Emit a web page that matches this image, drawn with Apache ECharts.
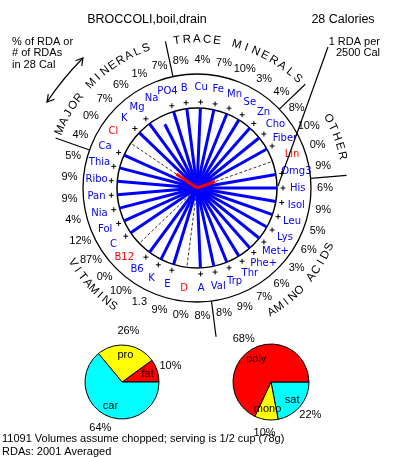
<!DOCTYPE html>
<html><head><meta charset="utf-8">
<script src="https://cdn.jsdelivr.net/npm/echarts@6/dist/echarts.min.js"></script>
<style>html,body{margin:0;padding:0;background:#fff}#c{width:393px;height:457px}</style>
</head><body><div id="c"></div>
<script>
// ---------------- data ----------------
const foodName = 'BROCCOLI,boil,drain';
const calories = 28;
const nutrients = ['His','Isol','Leu','Lys','Met+','Phe+','Thr','Trp','Val',
  'A','D','E','K','B6','B12','C','Fol','Nia','Pan','Ribo','Thia',
  'Ca','Cl','K','Mg','Na','PO4',
  'B','Cu','Fe','Mn','Se','Zn',
  'Cho','Fiber','Lin','Omg3'];
const percentRDA = [6,9,5,6,3,6,7,9,8,
  8,0,9,130,10,0,87,12,4,9,9,5,
  4,0,7,6,1,7,
  8,4,7,10,3,4,
  8,10,0,9];
const percentLabels = ['6%','9%','5%','6%','3%','6%','7%','9%','8%',
  '8%','0%','9%','1.3','10%','0%','87%','12%','4%','9%','9%','5%',
  '4%','0%','7%','6%','1%','7%',
  '8%','4%','7%','10%','3%','4%',
  '8%','10%','0%','9%'];
const noDataNames = ['D','B12','Cl','Lin'];
const partialNames = ['Cl','Lin'];
const partialValues = [0.35, 0.27];
const groupNames = ['AMINO ACIDS','VITAMINS','MAJOR MINERALS','TRACE MINERALS','OTHER'];
const groupSizes = [9,12,6,6,4];
const calorieNames = ['fat','pro','car'];
const calorieShare = [10,26,64];
const fatNames = ['sat','mono','poly'];
const fatShare = [22,10,68];

// ---------------- layout / style ----------------
const N = nutrients.length;
const threshold = calories / 2500 * 100;   // % RDA that reaches the "1 RDA per 2500 Cal" circle
const CENTER = [197, 188];
const R_IN = 80, R_OUT = 114;
const groupTextFrom = [6.06, 15.31, 20.85, 26.95, 34.14];
const groupTextTo   = [2.47, 12.9, 25.69, 32.13, 35.71];
const groupInward   = [true, true, false, false, false];
const pieColors1 = ['#ff0000','#ffff00','#00ffff'];
const pieColors2 = ['#00ffff','#ffff00','#ff0000'];
const SANS = '"Liberation Sans", Arial, sans-serif';
const LBL = '"DejaVu Sans", Verdana, sans-serif';

const dividers = [];
groupSizes.reduce((acc, s) => { dividers.push(acc + s - 0.5); return acc + s; }, 0);

const letters = [];
groupNames.forEach((g, gi) => {
  const chars = g.split('');
  chars.forEach((ch, k) => {
    const a = groupTextFrom[gi] + (groupTextTo[gi] - groupTextFrom[gi]) * k / (chars.length - 1);
    letters.push({ch, a, inward: groupInward[gi]});
  });
});

function pcustom(data, render, z) {
  return {type:'custom', coordinateSystem:'polar', polarIndex:0, data, renderItem: render,
          silent:true, z: z || 2, clip:false, animation:false};
}
function txt(x, y, text, style, rot) {
  return {type:'text', x, y, rotation: rot || 0,
    style: Object.assign({text, align:'center', verticalAlign:'middle', textAlign:'center', textVerticalAlign:'middle'}, style)};
}

const spokeData = nutrients.map((n, i) => [noDataNames.includes(n) ? 1 : Math.min(percentRDA[i] / threshold, 1), i]);
const plusData = nutrients.map((n, i) => [1.075, i]).filter((d, i) => percentRDA[i] > threshold);
const partialData = partialNames.map((n, k) => [partialValues[k] / threshold, nutrients.indexOf(n)]);

const series = [
  // spokes
  pcustom(spokeData, function (params, api) {
    const i = params.dataIndex;
    const c = api.coord([0, api.value(1)]);
    const p = api.coord([api.value(0), api.value(1)]);
    const nd = noDataNames.includes(nutrients[i]);
    return {type:'line', shape:{x1:c[0], y1:c[1], x2:p[0], y2:p[1]},
      style: nd ? {stroke:'#333', lineWidth:1, lineDash:[3,2]} : {stroke:'#0000ff', lineWidth:3}};
  }, 3),
  // partial red segments
  pcustom(partialData, function (params, api) {
    const c = api.coord([0, api.value(1)]);
    const p = api.coord([api.value(0), api.value(1)]);
    return {type:'line', shape:{x1:c[0], y1:c[1], x2:p[0], y2:p[1]}, style:{stroke:'#ff0000', lineWidth:3}};
  }, 4),
  // plus marks for capped spokes
  pcustom(plusData, function (params, api) {
    const p = api.coord([api.value(0), api.value(1)]);
    return {type:'group', children:[
      {type:'line', shape:{x1:p[0]-2.5, y1:p[1], x2:p[0]+2.5, y2:p[1]}, style:{stroke:'#000', lineWidth:1}},
      {type:'line', shape:{x1:p[0], y1:p[1]-2.5, x2:p[0], y2:p[1]+2.5}, style:{stroke:'#000', lineWidth:1}}
    ]};
  }),
  // nutrient names
  pcustom(nutrients.map((n, i) => [1.26, i]), function (params, api) {
    const i = params.dataIndex;
    const p = api.coord([api.value(0), api.value(1)]);
    return txt(p[0], p[1], nutrients[i], {fill: noDataNames.includes(nutrients[i]) ? '#ff0000' : '#0000ff',
      fontSize: 10, fontFamily: LBL});
  }),
  // percentage labels
  pcustom(nutrients.map((n, i) => [1.6, i]), function (params, api) {
    const i = params.dataIndex;
    const p = api.coord([api.value(0), api.value(1)]);
    return txt(p[0], p[1], percentLabels[i], {fill:'#000', fontSize: 11, fontFamily: SANS});
  }),
  // group dividers
  pcustom(dividers.map(d => [1.425, d]), function (params, api) {
    const a = api.coord([1.425, api.value(1)]);
    const b = api.coord([1.875, api.value(1)]);
    return {type:'line', shape:{x1:a[0], y1:a[1], x2:b[0], y2:b[1]}, style:{stroke:'#000', lineWidth:1.2}};
  }),
  // group names along the arc
  pcustom(letters.map(l => [l.inward ? 1.81 : 1.86, l.a]), function (params, api) {
    const l = letters[params.dataIndex];
    const c = api.coord([0, api.value(1)]);
    const p = api.coord([api.value(0), api.value(1)]);
    const phi = Math.atan2(p[1] - c[1], p[0] - c[0]) * 180 / Math.PI;
    const rot = -(l.inward ? phi - 90 : phi + 90) * Math.PI / 180;
    return txt(p[0], p[1], l.ch, {fill:'#000', fontSize: 11.5, fontFamily: SANS}, rot);
  }),
  // pies
  {type:'pie', center:[122,382], radius:37, startAngle:0, clockwise:false, silent:true, animation:false,
   data: calorieNames.map((n, i) => ({name:n, value:calorieShare[i], itemStyle:{color:pieColors1[i]}})),
   itemStyle:{borderColor:'#000', borderWidth:1}, label:{show:false}, labelLine:{show:false}},
  {type:'pie', center:[122,382], radius:[12,36], startAngle:0, clockwise:false, silent:true, animation:false, avoidLabelOverlap:false,
   data: calorieNames.map((n, i) => ({name:n, value:calorieShare[i]})),
   itemStyle:{color:'transparent', borderWidth:0}, labelLine:{show:false},
   label:{show:true, position:'inside', formatter:'{b}', color:'#000', fontSize:11, fontFamily:SANS}},
  {type:'pie', center:[122,382], radius:[40,56], startAngle:0, clockwise:false, silent:true, animation:false, avoidLabelOverlap:false,
   data: calorieNames.map((n, i) => ({name:n, value:calorieShare[i]})),
   itemStyle:{color:'transparent', borderWidth:0}, labelLine:{show:false},
   label:{show:true, position:'inside', formatter:'{c}%', color:'#000', fontSize:11, fontFamily:SANS}},
  {type:'pie', center:[271,382], radius:38, startAngle:0, clockwise:true, silent:true, animation:false,
   data: fatNames.map((n, i) => ({name:n, value:fatShare[i], itemStyle:{color:pieColors2[i]}})),
   itemStyle:{borderColor:'#000', borderWidth:1}, label:{show:false}, labelLine:{show:false}},
  {type:'pie', center:[271,382], radius:[12,37], startAngle:0, clockwise:true, silent:true, animation:false, avoidLabelOverlap:false,
   data: fatNames.map((n, i) => ({name:n, value:fatShare[i]})),
   itemStyle:{color:'transparent', borderWidth:0}, labelLine:{show:false},
   label:{show:true, position:'inside', formatter:'{b}', color:'#000', fontSize:11, fontFamily:SANS}},
  {type:'pie', center:[271,382], radius:[40,56], startAngle:0, clockwise:true, silent:true, animation:false, avoidLabelOverlap:false,
   data: fatNames.map((n, i) => ({name:n, value:fatShare[i]})),
   itemStyle:{color:'transparent', borderWidth:0}, labelLine:{show:false},
   label:{show:true, position:'inside', formatter:'{c}%', color:'#000', fontSize:11, fontFamily:SANS}}
];

const axisOff = {axisTick:{show:false}, axisLabel:{show:false}, splitLine:{show:false}, splitArea:{show:false}};
const option = {
  animation:false,
  textStyle:{fontFamily:SANS},
  polar:[{center:CENTER, radius:R_IN}, {center:CENTER, radius:R_OUT}],
  angleAxis:[
    Object.assign({polarIndex:0, type:'value', min:0, max:N, startAngle:0, clockwise:true,
      axisLine:{show:true, lineStyle:{color:'#000', width:1.5}}}, axisOff),
    Object.assign({polarIndex:1, type:'value', min:0, max:N, startAngle:0, clockwise:true,
      axisLine:{show:true, lineStyle:{color:'#000', width:1.3}}}, axisOff)
  ],
  radiusAxis:[
    {polarIndex:0, type:'value', min:0, max:1, show:false},
    {polarIndex:1, type:'value', min:0, max:1, show:false}
  ],
  graphic:[
    {type:'text', x:147, y:20, style:{text:foodName, fill:'#000', font:'12.5px ' + SANS, align:'center', verticalAlign:'middle', textAlign:'center', textVerticalAlign:'middle'}},
    {type:'text', x:343, y:20, style:{text:calories + ' Calories', fill:'#000', font:'12.5px ' + SANS, align:'center', verticalAlign:'middle', textAlign:'center', textVerticalAlign:'middle'}},
    {type:'text', x:12, y:36, style:{text:'% of RDA or\n# of RDAs\nin ' + calories + ' Cal', fill:'#000', font:'11px ' + SANS, lineHeight:11.5, align:'left', verticalAlign:'top', textAlign:'left', textVerticalAlign:'top'}},
    {type:'text', x:380, y:36, style:{text:'1 RDA per\n2500 Cal', fill:'#000', font:'11px ' + SANS, lineHeight:11.5, align:'right', verticalAlign:'top', textAlign:'right', textVerticalAlign:'top'}},
    {type:'line', shape:{x1:328, y1:47, x2:278, y2:186}, style:{stroke:'#000', lineWidth:1.2}, z:10},
    {type:'bezierCurve', shape:{x1:83, y1:58, x2:47, y2:102, cpx1:63, cpy1:78}, style:{stroke:'#000', lineWidth:1.2, fill:null}},
    {type:'polyline', shape:{points:[[75.5,60.8],[83,58],[81.7,65.9]]}, style:{stroke:'#000', lineWidth:1.2, fill:null}},
    {type:'polyline', shape:{points:[[54.5,99.2],[47,102],[48.3,94.1]]}, style:{stroke:'#000', lineWidth:1.2, fill:null}},
    {type:'text', x:2, y:439, style:{text:'11091 Volumes assume chopped; serving is 1/2 cup (78g)', fill:'#000', font:'11px ' + SANS, align:'left', verticalAlign:'middle', textAlign:'left', textVerticalAlign:'middle'}},
    {type:'text', x:2, y:452, style:{text:'RDAs: 2001 Averaged', fill:'#000', font:'11px ' + SANS, align:'left', verticalAlign:'middle', textAlign:'left', textVerticalAlign:'middle'}}
  ],
  series
};
const chart = echarts.init(document.getElementById('c'), null, {renderer:'canvas'});
chart.setOption(option);
</script></body></html>
